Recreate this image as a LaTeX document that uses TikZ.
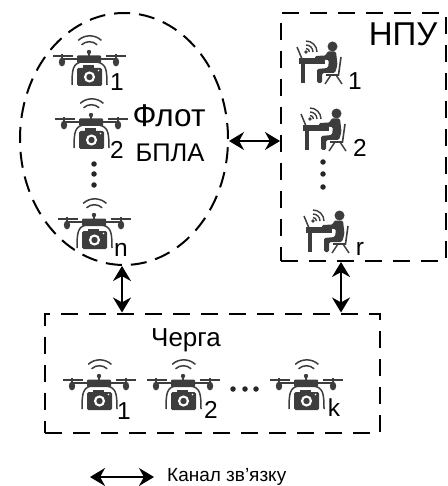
\documentclass[tikz,border=0pt]{standalone}
\usepackage{fontspec}
\setmainfont{Liberation Sans}
\usetikzlibrary{shapes.geometric,arrows.meta}
\definecolor{ico}{gray}{0.24}
\tikzset{
  x=1pt,y=-1pt,
  dashbox/.style={draw=black,line width=2pt,dash pattern=on 17pt off 11pt,inner sep=0pt},
  dashell/.style={draw=black,line width=2pt,dash pattern=on 16pt off 9pt,inner sep=0pt},
  link/.style={line width=2pt,{Stealth[length=15pt,width=18pt]}-{Stealth[length=15pt,width=18pt]},shorten >=0pt,shorten <=0pt},
  lbl/.style={font=\fontsize{24.5}{24.5}\selectfont,inner sep=0pt,text=black},
  dotm/.style={circle,fill=black!85,inner sep=0pt,minimum size=5.5pt},
  drone/.pic={
    % wifi
    \draw[ico,line width=1.5pt] (12.4,-18.6) arc[start angle=47,end angle=133,radius=17pt];
    \draw[ico,line width=1.5pt] (8.2,-14.2) arc[start angle=47,end angle=133,radius=11.5pt];
    \fill[ico] (0,-7) circle (2.2);
    \draw[ico,line width=1.6pt] (0,-7) -- (0,-1);
    % props
    \draw[ico,line width=1.4pt] (-36,-3) -- (-16,-3) (17,-3) -- (37,-3);
    \draw[ico,line width=1.6pt] (-27,-5) -- (-27,2) (27,-5) -- (27,2);
    \fill[ico] (-27,3) ellipse[x radius=3.2pt,y radius=4.4pt];
    \fill[ico] (27,3) ellipse[x radius=3.2pt,y radius=4.4pt];
    % arms, body
    \draw[ico,line width=2pt] (-27,0) -- (-9,0) (27,0) -- (9,0);
    \fill[ico,rounded corners=1pt] (-12,-3.5) rectangle (12,4);
    % landing arcs
    \draw[ico,line width=1.5pt] (-8,3) .. controls (-16,5) and (-17,10) .. (-17,26);
    \draw[ico,line width=1.5pt] (8,3) .. controls (17,5) and (18,10) .. (18,26);
    % camera
    \fill[ico,rounded corners=1.5pt] (-12,9) rectangle (13,27);
    \fill[ico] (-6,6.5) rectangle (5,10);
    \fill[white] (0.5,18) circle (5.6);
    \fill[ico] (0.5,18) circle (3.2);
    \fill[white] (9.5,11.5) circle (0.9);
  },
  operator/.pic={
    % laptop + desk
    \draw[ico,line width=1.5pt] (-2,-12) -- (3,0);
    \fill[ico] (0,-1) rectangle (26,5);
    \fill[ico] (2,5) rectangle (6,24);
    % wifi
    \fill[ico] (7,-7) circle (1.9);
    \draw[ico,line width=1.4pt] (10.5,-7) arc[start angle=0,end angle=90,radius=3.5pt];
    \draw[ico,line width=1.4pt] (14,-7) arc[start angle=0,end angle=90,radius=7pt];
    \draw[ico,line width=1.4pt] (18,-7) arc[start angle=0,end angle=90,radius=11pt];
    % person
    \fill[ico] (33.5,-12.5) circle (5);
    \fill[ico,rounded corners=1.5pt] (28,-7.5) -- (37,-7.5) -- (38.5,6) -- (36,14) -- (23,14) -- (23,24) -- (18,24) -- (18,10) -- (29,9) -- (30,1) -- (16,0) -- (16,-3) -- (27,-3.5) -- cycle;
    % chair
    \draw[ico,line width=1.6pt] (42,-2) -- (39.5,16) -- (27,16);
    \draw[ico,line width=1.5pt] (32,16) -- (26,25) (37,16) -- (43,25);
  }
}
\begin{document}
\begin{tikzpicture}[x=1pt,y=-1pt]
\useasboundingbox (0,0) rectangle (447,486);
% containers
\node[dashell,ellipse,minimum width=208pt,minimum height=252pt] (fleet) at (124,139) {};
\node[dashbox,rectangle,minimum width=165pt,minimum height=248pt] (npu) at (363.5,137) {};
\node[dashbox,rectangle,minimum width=335pt,minimum height=119pt] (queue) at (212.5,373) {};
% drones in the fleet
\pic at (89,59) {drone};
\pic at (91,122) {drone};
\pic at (94,222) {drone};
\node[lbl] (f1) at (117,82) {1};
\node[lbl] (f2) at (117,150) {2};
\node[lbl] (fn) at (121,250) {n};
\node[dotm] (fd1) at (94,164) {};
\node[dotm] (fd2) at (94,174) {};
\node[dotm] (fd3) at (94,185) {};
\node[inner sep=0pt,font=\fontsize{31.5}{31.5}\selectfont] (flot) at (169,116) {Флот};
\node[inner sep=0pt,font=\fontsize{25.5}{25.5}\selectfont] (bpla) at (170,153) {БПЛА};
% operators
\pic at (299,59) {operator};
\pic at (303,126) {operator};
\pic at (306,228) {operator};
\node[lbl] (n1) at (355,81) {1};
\node[lbl] (n2) at (360,148) {2};
\node[lbl] (nr) at (360,249) {r};
\node[dotm] (nd1) at (323,162) {};
\node[dotm] (nd2) at (323,174) {};
\node[dotm] (nd3) at (323,187) {};
\node[inner sep=0pt,font=\fontsize{33}{33}\selectfont] (npulabel) at (403,34) {НПУ};
% queue
\node[inner sep=0pt,font=\fontsize{26}{26}\selectfont] (cherga) at (186,340) {Черга};
\pic at (99,383) {drone};
\pic at (183,383) {drone};
\pic at (306,383) {drone};
\node[lbl] (q1) at (124,411) {1};
\node[lbl] (q2) at (211,410) {2};
\node[lbl] (qk) at (334,408) {k};
\node[dotm] (qd1) at (233,389) {};
\node[dotm] (qd2) at (245,389) {};
\node[dotm] (qd3) at (256,389) {};
% connectors
\draw[link] (fleet.east |- 0,141) -- (npu.west |- 0,141);
\coordinate (fleetout) at ([xshift=-2pt]fleet.south);
\draw[link] (fleetout) -- (fleetout |- queue.north);
\coordinate (npuout) at ([xshift=61pt]npu.south west);
\draw[link] (npuout) -- (npuout |- queue.north);
% legend
\coordinate (lega) at (90,477);
\node[inner sep=0pt,anchor=west,font=\fontsize{19}{19}\selectfont] (legt) at (167,477) {Канал зв’язку};
\coordinate (legb) at (154,477);
\draw[link] (lega) -- (legb);
\end{tikzpicture}
\end{document}
